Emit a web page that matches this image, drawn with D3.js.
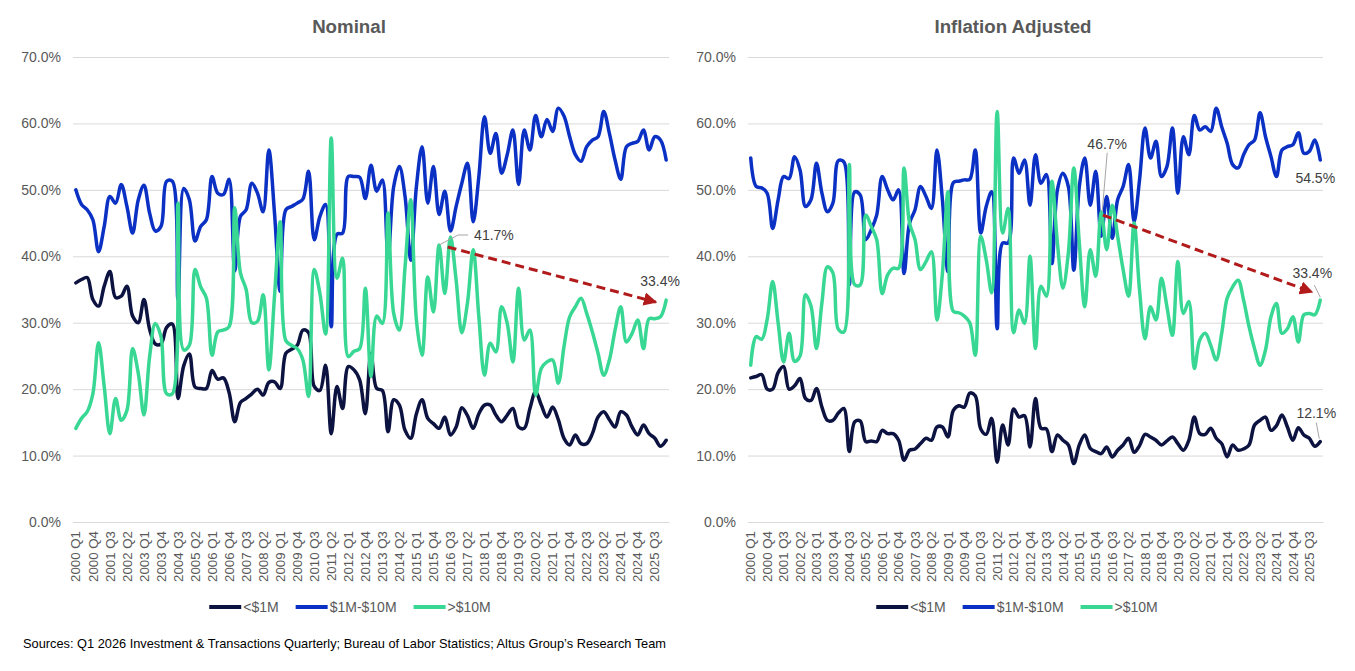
<!DOCTYPE html>
<html>
<head>
<meta charset="utf-8">
<script src="https://cdn.jsdelivr.net/npm/d3@7/dist/d3.min.js"></script>
<style>
  body { margin: 0; background: #fff; }
  svg { display: block; font-family: "Liberation Sans", Arial, sans-serif; }
</style>
</head>
<body>
<div id="vis"></div>
<script>
// quarterly categories 2000 Q1 .. 2026 Q1
const quarters = d3.range(105).map(i => `${2000 + Math.floor(i / 4)} Q${i % 4 + 1}`);
const yTicks = [0, 10, 20, 30, 40, 50, 60, 70];
const seriesNames = ['<$1M', '$1M-$10M', '>$10M'];
const seriesColors = ['#0c1340', '#0b30c4', '#38d793'];

// Nominal (%)
const nominalUnder1M = [
  36.0, 36.5, 36.8, 33.5, 32.5, 35.5, 37.7, 33.8, 34.0, 35.5, 31.0, 30.0, 33.5, 29.0, 26.8, 26.8, 29.3, 29.8, 18.6, 23.5,
  25.3, 20.3, 20.1, 20.1, 22.8, 21.5, 21.7, 19.5, 15.1, 18.0, 18.6, 19.3, 20.0, 19.1, 21.0, 21.1, 20.1, 25.4, 26.0, 26.6,
  28.9, 28.5, 20.4, 19.8, 23.6, 13.3, 20.4, 17.1, 23.4, 22.9, 21.4, 16.3, 25.4, 20.1, 19.8, 13.6, 18.4, 17.6, 13.8, 12.6,
  16.3, 18.4, 15.6, 14.8, 14.1, 15.8, 13.1, 14.3, 17.2, 16.0, 14.1, 16.3, 17.6, 17.6, 16.1, 15.1, 16.1, 17.1, 14.3, 14.1,
  17.1, 19.6, 17.6, 15.8, 17.3, 15.4, 12.6, 11.6, 13.1, 11.8, 11.8, 13.3, 15.8, 16.6, 15.4, 14.3, 16.6, 16.1, 14.3, 13.1,
  14.6, 13.3, 12.6, 11.4, 12.3
];
const nominal1to10M = [
  50.0, 47.8, 47.0, 45.5, 40.7, 44.5, 49.0, 48.0, 50.8, 47.5, 43.5, 48.5, 50.7, 46.5, 43.8, 44.5, 51.3, 51.3, 33.5, 50.2,
  48.5, 42.3, 44.5, 45.5, 52.0, 49.5, 49.3, 51.6, 37.8, 46.0, 47.0, 51.0, 49.5, 46.7, 56.0, 46.5, 34.7, 47.0, 47.5, 48.0,
  48.6, 52.8, 42.5, 46.0, 47.8, 29.4, 43.3, 43.5, 52.0, 52.0, 51.9, 48.7, 53.7, 49.8, 51.5, 39.9, 50.5, 53.5, 49.0, 39.4,
  50.5, 56.5, 48.0, 53.5, 46.3, 49.8, 43.8, 47.5, 51.0, 54.0, 45.2, 52.0, 61.0, 55.5, 58.5, 52.5, 55.3, 59.0, 50.8, 59.0,
  56.0, 61.2, 58.0, 60.6, 58.8, 62.3, 61.1, 58.0, 55.3, 54.3, 56.5, 57.5, 58.0, 61.8, 58.5, 54.5, 51.6, 56.5, 57.0, 57.3,
  59.0, 56.0, 58.0, 57.5, 54.5
];
const nominalOver10M = [
  14.1, 15.6, 16.6, 19.3, 27.0, 20.4, 13.3, 18.6, 15.3, 16.8, 26.1, 22.4, 16.1, 24.9, 29.9, 27.9, 19.3, 19.3, 48.0, 25.9,
  26.6, 38.0, 35.4, 33.7, 25.1, 28.6, 28.9, 29.4, 47.3, 37.5, 35.0, 30.0, 30.2, 34.2, 22.9, 34.0, 45.2, 27.3, 26.6, 26.1,
  24.4, 18.9, 38.0, 34.4, 28.3, 57.8, 36.7, 39.7, 24.9, 25.7, 26.1, 35.2, 21.9, 31.0, 29.9, 46.5, 31.4, 28.9, 38.4, 48.5,
  30.4, 25.1, 36.9, 31.6, 41.7, 34.4, 42.9, 36.4, 28.5, 33.0, 41.0, 30.9, 22.1, 26.9, 25.6, 32.4, 29.9, 24.1, 35.2, 27.4,
  28.9, 19.1, 23.1, 24.1, 24.4, 20.9, 26.4, 30.9, 32.4, 33.7, 31.4, 28.6, 25.4, 22.1, 24.4, 28.9, 32.4, 27.1, 28.4, 30.4,
  26.1, 30.6, 30.6, 30.9, 33.4
];

// Inflation adjusted (%)
const adjustedUnder1M = [
  21.7, 21.9, 22.2, 20.0, 20.0, 22.5, 23.4, 20.0, 20.5, 21.6, 18.6, 18.3, 20.1, 17.3, 15.3, 15.3, 16.4, 17.1, 10.6, 15.1,
  15.2, 12.1, 12.2, 12.1, 13.8, 13.3, 13.3, 12.3, 9.3, 10.8, 11.0, 11.8, 12.6, 12.3, 14.3, 14.3, 12.8, 16.8, 17.5, 17.3,
  19.4, 19.0, 14.0, 13.2, 15.6, 9.0, 14.6, 11.6, 17.0, 15.8, 16.0, 11.3, 18.6, 14.1, 14.0, 10.6, 13.1, 12.3, 11.6, 8.8,
  11.6, 13.1, 11.1, 10.6, 10.3, 11.3, 9.8, 10.8, 11.6, 12.6, 10.5, 11.5, 13.2, 12.8, 12.3, 11.6, 12.2, 12.8, 11.8, 10.8,
  12.3, 15.8, 13.3, 13.2, 14.1, 12.6, 11.8, 9.8, 11.6, 10.8, 11.0, 11.6, 14.6, 15.3, 15.8, 13.8, 14.5, 16.1, 14.3, 12.3,
  14.2, 13.1, 12.6, 11.4, 12.1
];
const adjusted1to10M = [
  54.8, 50.5, 50.3, 49.5, 44.2, 48.5, 52.0, 51.7, 55.0, 53.0, 47.5, 48.5, 54.0, 49.5, 46.7, 48.0, 54.4, 54.2, 35.7, 49.7,
  49.2, 42.5, 44.0, 46.2, 52.0, 50.0, 48.5, 50.0, 37.4, 45.0, 47.0, 50.5, 49.0, 47.2, 56.0, 48.5, 37.7, 51.1, 51.3, 51.5,
  51.6, 56.0, 43.5, 47.5, 49.7, 29.1, 42.0, 42.0, 54.8, 52.5, 54.5, 47.7, 55.3, 51.0, 52.3, 38.9, 50.0, 52.5, 50.5, 37.9,
  50.5, 54.8, 47.7, 52.8, 43.0, 49.0, 42.7, 48.5, 50.5, 53.8, 45.2, 51.5, 59.3, 54.8, 57.3, 52.0, 53.5, 59.3, 49.5, 58.0,
  55.3, 61.2, 59.0, 59.5, 58.8, 62.3, 59.5, 57.0, 53.8, 53.3, 55.3, 56.8, 57.5, 61.6, 58.0, 55.0, 52.0, 56.0, 56.5, 56.8,
  58.6, 55.5, 55.8, 57.5, 54.5
];
const adjustedOver10M = [
  23.6, 27.9, 27.5, 30.5, 36.2, 30.0, 24.1, 28.4, 24.2, 25.0, 34.2, 32.5, 26.1, 33.0, 38.4, 37.5, 29.0, 28.6, 53.8, 35.7,
  35.7, 46.2, 44.5, 42.5, 34.4, 37.2, 38.2, 38.2, 53.3, 45.0, 42.5, 38.0, 39.2, 40.7, 30.4, 37.4, 49.7, 31.7, 31.5, 31.0,
  30.0, 25.1, 43.0, 39.5, 34.5, 61.8, 43.5, 47.2, 28.5, 31.9, 29.9, 40.0, 26.1, 35.5, 34.0, 51.3, 42.0, 35.2, 40.5, 53.3,
  42.0, 32.4, 41.0, 37.0, 46.7, 41.0, 47.7, 43.0, 38.0, 34.0, 45.0, 34.9, 27.6, 32.4, 30.4, 36.7, 32.4, 28.1, 39.2, 31.4,
  33.2, 23.1, 27.4, 28.4, 26.6, 24.4, 28.4, 33.7, 35.4, 36.4, 33.4, 29.4, 26.1, 23.6, 25.9, 30.9, 32.9, 28.4, 29.1, 30.9,
  27.1, 31.2, 31.4, 31.2, 33.4
];

// callouts: [quarter index, value, text]
const nominalLabels = [[64, 41.7, '41.7%'], [104, 33.4, '33.4%']];
const adjustedLabels = [[64, 46.7, '46.7%'], [104, 54.5, '54.5%'], [104, 33.4, '33.4%'], [104, 12.1, '12.1%']];
// trend arrows: [start index, start value, end index, end value]
const nominalArrow = [65.5, 41.4, 102.2, 33.1];
const adjustedArrow = [64.3, 46.2, 102.5, 34.6];

const width = 1355, height = 671;
const svg = d3.select('#vis').append('svg')
  .attr('width', width)
  .attr('height', height);

svg.append('defs').append('marker')
  .attr('id', 'arrowhead')
  .attr('viewBox', '0 0 10 10')
  .attr('refX', 9).attr('refY', 5)
  .attr('markerWidth', 4.5).attr('markerHeight', 4.5)
  .attr('markerUnits', 'strokeWidth')
  .attr('orient', 'auto')
  .append('path')
    .attr('d', 'M0,0L10,5L0,10Z')
    .attr('fill', '#b21b1b');

const panels = [
  {
    title: 'Nominal', left: 73, right: 669, titleX: 349, legendX: 350,
    series: [nominalUnder1M, nominal1to10M, nominalOver10M],
    labels: nominalLabels, arrow: nominalArrow,
    // label offsets: text dx/dy, optional leader points
    labelStyle: [
      { dx: 35, dy: -10, anchor: 'start', leader: [[0, 0], [19, -10], [29, -10]] },
      { dx: -6, dy: -19, anchor: 'middle' }
    ]
  },
  {
    title: 'Inflation Adjusted', left: 748, right: 1323, titleX: 1013, legendX: 1017,
    series: [adjustedUnder1M, adjusted1to10M, adjustedOver10M],
    labels: adjustedLabels, arrow: adjustedArrow,
    labelStyle: [
      { dx: 6, dy: -68, anchor: 'middle', leader: [[1, 0], [6, -59]] },
      { dx: -5, dy: 18, anchor: 'middle' },
      { dx: -8, dy: -27, anchor: 'middle', leader: [[0, -3], [-6, -15]] },
      { dx: -4, dy: -29, anchor: 'middle', leader: [[-1, -3], [-4, -19]] }
    ]
  }
];

const plotTop = 57, plotBottom = 522;
const y = d3.scaleLinear().domain([0, 70]).range([plotBottom, plotTop]);

panels.forEach(p => {
  const g = svg.append('g');
  const x = d3.scaleBand().domain(d3.range(quarters.length)).range([p.left, p.right]);
  const xc = i => p.left + x.bandwidth() * (i + 0.5);

  // title
  g.append('text')
    .attr('x', p.titleX).attr('y', 33)
    .attr('text-anchor', 'middle')
    .attr('font-size', 18.7).attr('font-weight', 'bold')
    .attr('fill', '#595959')
    .text(p.title);

  // y grid + labels
  const yAxis = g.append('g')
    .attr('transform', `translate(${p.left},0)`)
    .call(d3.axisLeft(y).tickValues(yTicks)
      .tickSize(-(p.right - p.left)).tickPadding(12)
      .tickFormat(d => d3.format('.1f')(d) + '%'));
  yAxis.select('.domain').remove();
  yAxis.selectAll('.tick line').attr('stroke', '#d9d9d9');
  yAxis.selectAll('.tick text')
    .attr('fill', '#595959').attr('font-size', 14)
    .attr('font-family', '"Liberation Sans", Arial, sans-serif');

  // x axis labels, every third quarter
  const xAxis = g.append('g')
    .attr('transform', `translate(0,${plotBottom})`)
    .call(d3.axisBottom(x)
      .tickValues(d3.range(0, quarters.length, 3))
      .tickSize(0).tickPadding(0)
      .tickFormat(i => quarters[i]));
  xAxis.select('.domain').attr('stroke', '#d9d9d9');
  xAxis.selectAll('.tick text')
    .attr('fill', '#595959').attr('font-size', 13.3)
    .attr('font-family', '"Liberation Sans", Arial, sans-serif')
    .attr('text-anchor', 'end')
    .attr('transform', 'translate(0,9) rotate(-90)')
    .attr('x', 0).attr('y', 0).attr('dy', '0.35em');

  // lines
  const line = d3.line()
    .x((d, i) => xc(i))
    .y(d => y(d))
    .curve(d3.curveCatmullRom.alpha(0.5));
  p.series.forEach((s, k) => {
    g.append('path')
      .datum(s)
      .attr('d', line)
      .attr('fill', 'none')
      .attr('stroke', seriesColors[k])
      .attr('stroke-width', 3.5)
      .attr('stroke-linejoin', 'round')
      .attr('stroke-linecap', 'round');
  });

  // trend arrow
  const [i0, v0, i1, v1] = p.arrow;
  g.append('line')
    .attr('x1', xc(i0)).attr('y1', y(v0))
    .attr('x2', xc(i1)).attr('y2', y(v1))
    .attr('stroke', '#b21b1b')
    .attr('stroke-width', 3)
    .attr('stroke-dasharray', '9,5')
    .attr('marker-end', 'url(#arrowhead)');

  // callouts
  p.labels.forEach(([i, v, txt], k) => {
    const st = p.labelStyle[k];
    const px = xc(i), py = y(v);
    if (st.leader) {
      g.append('polyline')
        .attr('points', st.leader.map(([a, b]) => [px + a, py + b].join(',')).join(' '))
        .attr('fill', 'none')
        .attr('stroke', '#a6a6a6')
        .attr('stroke-width', 1);
    }
    g.append('text')
      .attr('x', px + st.dx).attr('y', py + st.dy)
      .attr('dy', '0.35em')
      .attr('text-anchor', st.anchor)
      .attr('font-size', 14)
      .attr('fill', '#404040')
      .text(txt);
  });

  // legend
  const leg = g.append('g');
  let cx = 0;
  seriesNames.forEach((name, k) => {
    const item = leg.append('g').attr('transform', `translate(${cx},0)`);
    item.append('line')
      .attr('x1', 0).attr('x2', 32)
      .attr('stroke', seriesColors[k])
      .attr('stroke-width', 4);
    const t = item.append('text')
      .attr('x', 34).attr('dy', '0.35em')
      .attr('font-size', 14)
      .attr('fill', '#595959')
      .text(name);
    cx += 34 + t.node().getComputedTextLength() + 17;
  });
  const legW = cx - 17;
  leg.attr('transform', `translate(${p.legendX - legW / 2},607)`);
});

// source note
svg.append('text')
  .attr('x', 23).attr('y', 648)
  .attr('font-size', 13)
  .attr('fill', '#000')
  .attr('textLength', 643)
  .attr('lengthAdjust', 'spacingAndGlyphs')
  .text('Sources: Q1 2026 Investment & Transactions Quarterly; Bureau of Labor Statistics; Altus Group\u2019s Research Team');
</script>
</body>
</html>
